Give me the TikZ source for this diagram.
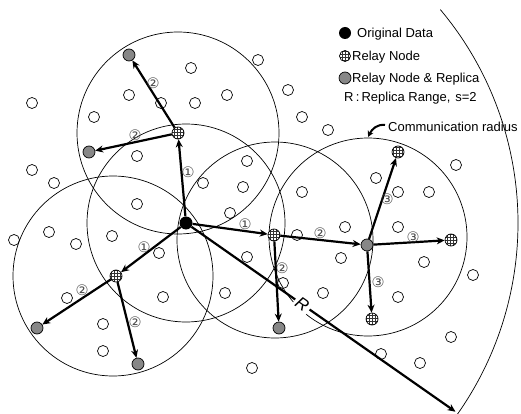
\documentclass[tikz,border=0pt]{standalone}
\usepackage{fontspec}
\setmainfont{Liberation Sans}
\newfontfamily\symfont{DejaVu Sans}
\usetikzlibrary{arrows.meta,patterns}
\definecolor{rgray}{RGB}{135,135,135}
\begin{document}
\begin{tikzpicture}[x=1pt,y=-1pt,
  rng/.style={line width=0.7pt},
  dot/.style={circle,draw,line width=0.7pt,minimum size=11pt,inner sep=0pt},
  orig/.style={circle,fill=black,minimum size=13pt,inner sep=0pt},
  relay/.style={circle,draw,line width=0.7pt,minimum size=12pt,inner sep=0pt,preaction={fill=white},pattern=grid,pattern color=black!80},
  repl/.style={circle,draw,line width=0.7pt,fill=rgray,minimum size=12pt,inner sep=0pt},
  hop/.style={font=\symfont\fontsize{14.5}{14.5}\selectfont,text=black!70,inner sep=0pt},
  link/.style={line width=2.2pt,-{Stealth[length=8pt,width=7pt]}},
  lbl/.style={font=\fontsize{13}{15}\selectfont,inner sep=0pt,anchor=west,text height=9.5pt,text depth=2.5pt},
]
\useasboundingbox (0,0) rectangle (521,414);
% communication ranges
\draw[rng] (178,133) circle[radius=101];
\draw[rng] (186,223) circle[radius=99];
\draw[rng] (113,276) circle[radius=100];
\draw[rng] (275,240) circle[radius=98];
\draw[rng] (368,237) circle[radius=99];
% replica range arc
\draw[rng] (186,223) ++(-40:332) arc[start angle=-40,end angle=37,radius=332];
% ordinary nodes
\foreach \x/\y [count=\i] in {32/103,258/60,191/68,129/95,161/103,195/103,227/95,94/117,137/156,32/170,54/183,247/161,203/183,243/187,137/204,288/90,302/117,328/130,376/178,398/192,429/192,456/165,302/192,230/213,49/232,14/240,76/244,112/236,159/253,247/257,67/298,163/297,225/293,103/324,103/351,252/368,297/235,345/227,398/227,341/258,424/262,473/275,283/283,323/293,398/297,451/337,381/354,420/363}
  \node[dot] (n\i) at (\x,\y) {};
% special nodes
\node[orig] (o) at (186,223) {};
\node[relay] (r1) at (178,133) {};
\node[repl] (g1) at (129,55) {};
\node[repl] (g2) at (89,152) {};
\node[relay] (r2) at (116,276) {};
\node[repl] (g3) at (37,328) {};
\node[repl] (g4) at (138,364) {};
\node[relay] (r3) at (274,235) {};
\node[repl] (g5) at (279,328) {};
\node[repl] (g6) at (367,245) {};
\node[relay] (r4) at (398,152) {};
\node[relay] (r5) at (451,240) {};
\node[relay] (r6) at (372,319) {};
% links
\draw[link] (o) -- (r1);
\draw[link] (r1) -- (g1);
\draw[link] (r1) -- (g2);
\draw[link] (o) -- (r2);
\draw[link] (r2) -- (g3);
\draw[link] (r2) -- (g4);
\draw[link] (o) -- (r3);
\draw[link] (r3) -- (g6);
\draw[link] (r3) -- (g5);
\draw[link] (g6) -- (r4);
\draw[link] (g6) -- (r5);
\draw[link] (g6) -- (r6);
\path (186,223) ++(35:329) coordinate (rend);
\draw[link] (o) -- node[sloped,pos=0.42,fill=white,inner sep=2.5pt,font=\itshape\fontsize{17}{17}\selectfont] (rl) {R} (rend);
% hop labels
\node[hop] (h1) at (188,172) {①};
\node[hop] (h2) at (153,83) {②};
\node[hop] (h3) at (135,135) {②};
\node[hop] (h4) at (144,247) {①};
\node[hop] (h5) at (82,290) {②};
\node[hop] (h6) at (135,322) {②};
\node[hop] (h7) at (245,224) {①};
\node[hop] (h8) at (320,233) {②};
\node[hop] (h9) at (282,268) {②};
\node[hop] (h10) at (387,199) {③};
\node[hop] (h11) at (413,237) {③};
\node[hop] (h12) at (378,282) {③};
% legend
\node[orig,minimum size=12pt] (lo) at (345,33) {};
\node[lbl] (lt1) at (357,34) {Original Data};
\node[relay,minimum size=11pt] (lr) at (345,56) {};
\node[lbl] (lt2) at (352,57) {Relay Node};
\node[repl] (lg) at (345,78) {};
\node[lbl] (lt3) at (352,79) {Relay Node \& Replica};
\node[lbl] (lt4) at (344,98) {R\,:\,Replica Range,\hspace{5pt}s=2};
\node[lbl] (lt5) at (388,128) {Communication radius};
\coordinate (ca) at (385,125);
\coordinate (cb) at (368,137);
\draw[line width=2pt,-{Stealth[length=6pt,width=6pt]}] (ca) .. controls (377,124) and (372,129) .. (cb);
\end{tikzpicture}
\end{document}
